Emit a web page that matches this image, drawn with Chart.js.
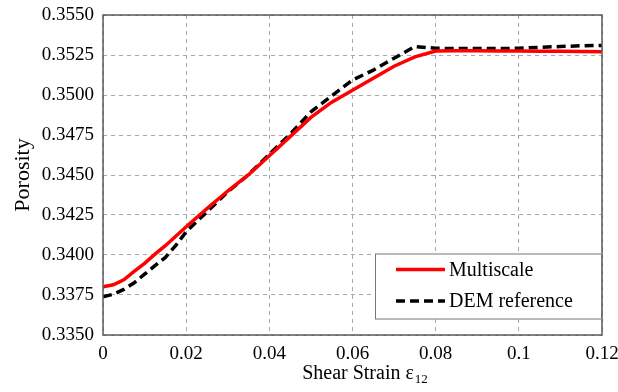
<!DOCTYPE html>
<html>
<head>
<meta charset="utf-8">
<script src="https://cdn.jsdelivr.net/npm/chart.js@4.4.1/dist/chart.umd.min.js"></script>
<style>
    html, body { margin: 0; padding: 0; background: #fff; }
    #wrap { width: 618px; height: 392px; position: relative; }
</style>
</head>
<body>
<div id="wrap"><canvas id="porosityChart"></canvas></div>
<script>
// Shear strain samples (x) and porosity
const strain = [0, 0.0025, 0.005, 0.0075, 0.01, 0.0125, 0.015, 0.0175, 0.02, 0.025,
    0.03, 0.035, 0.04, 0.045, 0.05, 0.055, 0.06, 0.065, 0.07, 0.075,
    0.08, 0.085, 0.09, 0.095, 0.1, 0.105, 0.11, 0.115, 0.12];

const multiscale = [0.33802, 0.33814, 0.33845, 0.33898, 0.33948, 0.34005, 0.34058, 0.34117, 0.34177, 0.34290,
    0.34400, 0.34502, 0.34620, 0.34740, 0.34860, 0.34955, 0.35030, 0.35105, 0.35180, 0.35238,
    0.35275, 0.35276, 0.35276, 0.35275, 0.35275, 0.35274, 0.35273, 0.35272, 0.35271];

const demReference = [0.33739, 0.33755, 0.33785, 0.33826, 0.33880, 0.33933, 0.33985, 0.34060, 0.34145, 0.34270,
    0.34395, 0.34502, 0.34630, 0.34755, 0.34895, 0.34995, 0.35094, 0.35155, 0.35230, 0.35303,
    0.35292, 0.35290, 0.35290, 0.35290, 0.35292, 0.35298, 0.35303, 0.35308, 0.35310];

const xTickValues = [0, 0.02, 0.04, 0.06, 0.08, 0.1, 0.12];
const xTickLabels = ['0', '0.02', '0.04', '0.06', '0.08', '0.1', '0.12'];
const yTickValues = [0.335, 0.3375, 0.34, 0.3425, 0.345, 0.3475, 0.35, 0.3525, 0.355];
const yTickLabels = ['0.3350', '0.3375', '0.3400', '0.3425', '0.3450', '0.3475', '0.3500', '0.3525', '0.3550'];

const SERIF = '"Liberation Serif", "Times New Roman", serif';

const toPoints = (ys) => strain.map((x, i) => ({ x: x, y: ys[i] }));

// frame, inner legend and x title with subscript
const decorPlugin = {
    id: 'decor',
    afterDraw(chart) {
        const ctx = chart.ctx;
        const a = chart.chartArea;
        ctx.save();

        // plot frame
        ctx.strokeStyle = '#5a5a5a';
        ctx.lineWidth = 1.5;
        ctx.strokeRect(a.left, a.top, a.right - a.left, a.bottom - a.top);

        // legend box
        const bx = a.right - 227, by = a.bottom - 81.5;
        ctx.fillStyle = '#fff';
        ctx.fillRect(bx, by, 227, 66);
        ctx.strokeStyle = '#777';
        ctx.lineWidth = 1;
        ctx.strokeRect(bx + 0.5, by + 0.5, 226, 65);

        const rows = [by + 16, by + 47.5];
        chart.data.datasets.forEach((ds, i) => {
            ctx.beginPath();
            ctx.strokeStyle = ds.borderColor;
            ctx.lineWidth = ds.borderWidth;
            ctx.setLineDash(ds.borderDash || []);
            ctx.moveTo(bx + 21, rows[i]);
            ctx.lineTo(bx + 70, rows[i]);
            ctx.stroke();
            ctx.setLineDash([]);
            ctx.fillStyle = '#000';
            ctx.font = '20px ' + SERIF;
            ctx.textBaseline = 'middle';
            ctx.textAlign = 'left';
            ctx.fillText(ds.label, bx + 74, rows[i] + 1);
        });

        // x axis title: Shear Strain ε12
        const main = 'Shear Strain \u03b5';
        const sub = '12';
        ctx.font = '20px ' + SERIF;
        const w1 = ctx.measureText(main).width;
        ctx.font = '13px ' + SERIF;
        const w2 = ctx.measureText(sub).width;
        const cx = (a.left + a.right) / 2 + 12;
        const x0 = cx - (w1 + w2) / 2;
        const base = a.bottom + 44;
        ctx.fillStyle = '#000';
        ctx.textBaseline = 'alphabetic';
        ctx.textAlign = 'left';
        ctx.font = '20px ' + SERIF;
        ctx.fillText(main, x0, base);
        ctx.font = '13px ' + SERIF;
        ctx.fillText(sub, x0 + w1 + 1, base + 4);

        ctx.restore();
    }
};

const gridStyle = {
    color: '#a8a8a8',
    lineWidth: 1,
    drawTicks: false
};

new Chart(document.getElementById('porosityChart').getContext('2d'), {
    type: 'line',
    data: {
        datasets: [{
            label: 'Multiscale',
            data: toPoints(multiscale),
            borderColor: '#ff0000',
            borderWidth: 3.5,
            pointRadius: 0,
            tension: 0,
            fill: false
        }, {
            label: 'DEM reference',
            data: toPoints(demReference),
            borderColor: '#000000',
            borderWidth: 3.5,
            borderDash: [9, 5],
            pointRadius: 0,
            tension: 0,
            fill: false
        }]
    },
    options: {
        responsive: true,
        maintainAspectRatio: false,
        animation: false,
        layout: {
            padding: { top: 15, right: 16, bottom: 0, left: 0 }
        },
        plugins: {
            legend: { display: false },
            tooltip: { enabled: false }
        },
        scales: {
            x: {
                type: 'linear',
                min: 0,
                max: 0.12,
                afterBuildTicks: (scale) => {
                    scale.ticks = xTickValues.map(v => ({ value: v }));
                },
                afterFit: (scale) => {
                    scale.height = 57;
                    scale.paddingLeft = 0;
                    scale.paddingRight = 0;
                },
                grid: gridStyle,
                border: { display: false, dash: [4, 4] },
                ticks: {
                    color: '#000',
                    font: { family: SERIF, size: 19 },
                    padding: 8,
                    maxRotation: 0,
                    autoSkip: false,
                    callback: (value, index) => xTickLabels[index]
                }
            },
            y: {
                min: 0.335,
                max: 0.355,
                afterBuildTicks: (scale) => {
                    scale.ticks = yTickValues.map(v => ({ value: v }));
                },
                afterFit: (scale) => {
                    scale.width = 103;
                    scale.paddingTop = 0;
                    scale.paddingBottom = 0;
                },
                grid: gridStyle,
                border: { display: false, dash: [4, 4] },
                ticks: {
                    color: '#000',
                    font: { family: SERIF, size: 19 },
                    padding: 9,
                    autoSkip: false,
                    callback: (value, index) => yTickLabels[index]
                },
                title: {
                    display: true,
                    text: 'Porosity',
                    color: '#000',
                    font: { family: SERIF, size: 22 },
                    padding: { top: 10, bottom: 0 }
                }
            }
        }
    },
    plugins: [decorPlugin]
});
</script>
</body>
</html>
